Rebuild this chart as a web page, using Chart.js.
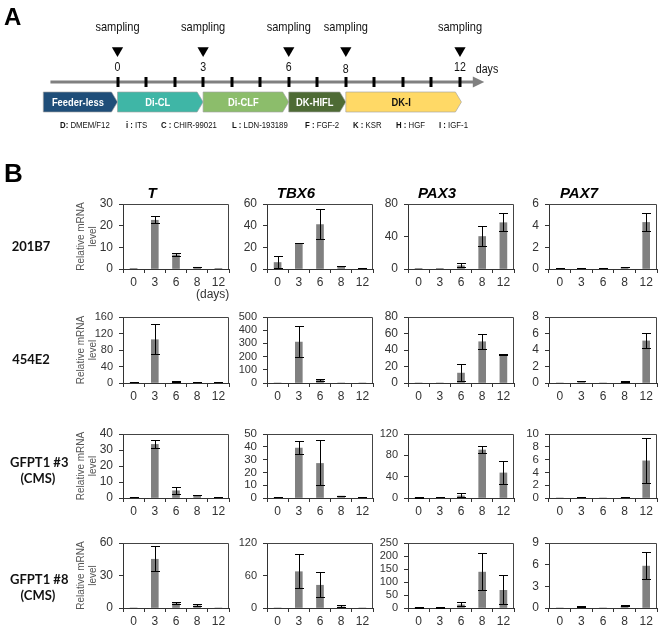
<!DOCTYPE html>
<html>
<head>
<meta charset="utf-8">
<script src="https://cdn.jsdelivr.net/npm/chart.js@4.4.0/dist/chart.umd.min.js"></script>
<style>
  body { margin: 0; background: #fff; }
  #page { position: relative; width: 660px; height: 629px; overflow: hidden;
          font-family: Arial, 'Liberation Sans', sans-serif; }
  #page canvas { position: absolute; }
  .lbl { position: absolute; white-space: nowrap; }
  .panel { font-weight: bold; line-height: 1; }
  .rowname { font-family: Lato, 'Liberation Sans', sans-serif; font-weight: bold; font-size: 13px;
             line-height: 16px; text-align: center; width: 56px; color: #111; }
  .medium { font-size: 9.5px; line-height: 12px; transform: scaleX(0.82); transform-origin: left center; color: #111; }
</style>
</head>
<body>
<div id="page"></div>
<script>
// ---------- panel A: protocol timeline ----------
const samplingDays = [0, 3, 6, 8, 12];
const phaseNames = ['Feeder-less', 'Di-CL', 'Di-CLF', 'DK-HIFL', 'DK-I'];
const phaseStart = [-2.6, 0, 3, 6, 8];
const phaseEnd = [0, 3, 6, 8, 12.05];
const mediumKeys = ['D:', 'i :', 'C :', 'L :', 'F :', 'K :', 'H :', 'I :'];
const mediumNames = ['DMEM/F12', 'ITS', 'CHIR-99021', 'LDN-193189', 'FGF-2', 'KSR', 'HGF', 'IGF-1'];

// ---------- panel B: relative mRNA level (mean, error) on days 0/3/6/8/12 ----------
const days = ['0', '3', '6', '8', '12'];
const genes = ['T', 'TBX6', 'PAX3', 'PAX7'];
const cellLines = ['201B7', '454E2', 'GFPT1 #3<br>(CMS)', 'GFPT1 #8<br>(CMS)'];

const T_201B7 = [0.05, 22.5, 6.5, 0.8, 0.1];
const T_201B7_err = [0, 1.8, 0.9, 0.2, 0];
const TBX6_201B7 = [6, 23.5, 41, 2, 0.5];
const TBX6_201B7_err = [6, 0.4, 14, 0.4, 0.2];
const PAX3_201B7 = [0.2, 0.2, 4, 40, 57];
const PAX3_201B7_err = [0, 0, 3, 13, 12];
const PAX7_201B7 = [0.05, 0.05, 0.05, 0.15, 4.3];
const PAX7_201B7_err = [0.02, 0.02, 0.02, 0.04, 0.9];

const T_454E2 = [1, 105, 2, 1, 1];
const T_454E2_err = [0.3, 38, 0.5, 0.3, 0.3];
const TBX6_454E2 = [0, 310, 20, 0, 0];
const TBX6_454E2_err = [0, 123, 10, 0, 0];
const PAX3_454E2 = [0, 0, 12, 50, 34];
const PAX3_454E2_err = [0, 0, 11, 10, 1];
const PAX7_454E2 = [0, 0.2, 0, 0.1, 5.1];
const PAX7_454E2_err = [0, 0.05, 0, 0.03, 1];

const T_GFPT1_3 = [0.3, 33.5, 4.5, 1.5, 0.3];
const T_GFPT1_3_err = [0.1, 2.8, 2.5, 0.5, 0.1];
const TBX6_GFPT1_3 = [0.5, 39, 27, 1.5, 0.5];
const TBX6_GFPT1_3_err = [0.2, 5.5, 18, 0.4, 0.2];
const PAX3_GFPT1_3 = [0.5, 1, 4, 90, 47];
const PAX3_GFPT1_3_err = [0.3, 0.5, 5, 7, 22];
const PAX7_GFPT1_3 = [0, 0.1, 0, 0.1, 5.8];
const PAX7_GFPT1_3_err = [0, 0.03, 0, 0.03, 3.6];

const T_GFPT1_8 = [0, 45, 4, 2, 0];
const T_GFPT1_8_err = [0, 12, 1.2, 1.5, 0];
const TBX6_GFPT1_8 = [0, 67, 42, 2, 0];
const TBX6_GFPT1_8_err = [0, 32, 24, 3, 0];
const PAX3_GFPT1_8 = [1, 1, 12, 138, 68];
const PAX3_GFPT1_8_err = [0.5, 0.5, 10, 73, 58];
const PAX7_GFPT1_8 = [0, 0.1, 0, 0.25, 5.8];
const PAX7_GFPT1_8_err = [0, 0.03, 0, 0.15, 1.9];

const yMax = [[30, 60, 80, 6], [160, 500, 80, 8], [40, 50, 120, 10], [60, 120, 250, 9]];
const yStep = [[10, 20, 40, 2], [40, 100, 20, 2], [10, 10, 40, 2], [30, 60, 50, 3]];

const means = [
  [T_201B7, TBX6_201B7, PAX3_201B7, PAX7_201B7],
  [T_454E2, TBX6_454E2, PAX3_454E2, PAX7_454E2],
  [T_GFPT1_3, TBX6_GFPT1_3, PAX3_GFPT1_3, PAX7_GFPT1_3],
  [T_GFPT1_8, TBX6_GFPT1_8, PAX3_GFPT1_8, PAX7_GFPT1_8]
];
const errs = [
  [T_201B7_err, TBX6_201B7_err, PAX3_201B7_err, PAX7_201B7_err],
  [T_454E2_err, TBX6_454E2_err, PAX3_454E2_err, PAX7_454E2_err],
  [T_GFPT1_3_err, TBX6_GFPT1_3_err, PAX3_GFPT1_3_err, PAX7_GFPT1_3_err],
  [T_GFPT1_8_err, TBX6_GFPT1_8_err, PAX3_GFPT1_8_err, PAX7_GFPT1_8_err]
];

// layout of the small plots (plot area boxes)
const colLeft = [123, 267, 408, 549];
const colWidth = [106, 106, 106, 108];
const rowTop = [204, 317, 434, 543];
const rowHeight = [65, 66, 64, 65];
const rowLabelX = [3, 3, 10, 10];
const rowLabelY = [238, 351, 462, 579];
const phaseColors = ['#1f4e79', '#3fb6a6', '#8cbd6b', '#4e6b35', '#ffd966'];
const phaseText = ['#fff', '#fff', '#fff', '#fff', '#111'];
const mediumX = [60, 126, 161, 232, 305, 353, 396, 439];

Chart.defaults.font.family = "Arial, 'Liberation Sans', sans-serif";
const page = document.getElementById('page');

function addLabel(html, cls, left, top, extra) {
  const d = document.createElement('div');
  d.className = 'lbl ' + cls;
  d.innerHTML = html;
  d.style.left = left + 'px';
  d.style.top = top + 'px';
  if (extra) Object.assign(d.style, extra);
  page.appendChild(d);
}

function squeezedText(ctx, txt, x, y, size, weight, color, sx) {
  ctx.save();
  ctx.font = weight + ' ' + size + "px 'Liberation Sans', Arial, sans-serif";
  ctx.fillStyle = color;
  ctx.textAlign = 'center';
  ctx.textBaseline = 'middle';
  ctx.translate(x, y);
  ctx.scale(sx, 1);
  ctx.fillText(txt, 0, 0);
  ctx.restore();
}

// draws the day axis, the phase arrows and the labels of panel A
const timeline = {
  id: 'timeline',
  beforeDatasetsDraw(chart) {
    const ctx = chart.ctx;
    const xs = chart.scales.x;
    const px = v => xs.getPixelForValue(v);
    ctx.save();
    // main arrow
    ctx.strokeStyle = '#808080';
    ctx.lineWidth = 3;
    ctx.beginPath();
    ctx.moveTo(px(-2.35), 82);
    ctx.lineTo(px(12.5), 82);
    ctx.stroke();
    ctx.fillStyle = '#808080';
    ctx.beginPath();
    ctx.moveTo(px(12.45), 76.5);
    ctx.lineTo(px(12.85), 82);
    ctx.lineTo(px(12.45), 87.5);
    ctx.closePath();
    ctx.fill();
    // daily ticks
    ctx.fillStyle = '#000';
    for (let d = 0; d <= 12; d++) ctx.fillRect(Math.round(px(d)) - 1.5, 77, 3, 10);
    // phase arrows
    phaseNames.forEach((name, i) => {
      const x0 = px(phaseStart[i]), x1 = px(phaseEnd[i]);
      ctx.beginPath();
      ctx.moveTo(x0, 92);
      ctx.lineTo(x1 - 6, 92);
      ctx.lineTo(x1, 102);
      ctx.lineTo(x1 - 6, 112);
      ctx.lineTo(x0, 112);
      ctx.closePath();
      ctx.fillStyle = phaseColors[i];
      ctx.fill();
      ctx.strokeStyle = 'rgba(160,160,160,0.8)';
      ctx.lineWidth = 0.8;
      ctx.stroke();
      squeezedText(ctx, name, (x0 + x1 - 5) / 2, 102.5, 11, 'bold', phaseText[i], 0.85);
    });
    // sampling labels and day numbers
    samplingDays.forEach(d => {
      squeezedText(ctx, 'sampling', px(d), 27, 13, 'normal', '#111', 0.85);
      squeezedText(ctx, String(d), px(d), d === 8 ? 70 : 68, 12.5, 'normal', '#111', 0.85);
    });
    squeezedText(ctx, 'days', px(12) + 27, 70, 12.5, 'normal', '#111', 0.85);
    ctx.restore();
  }
};

const cvA = document.createElement('canvas');
cvA.width = 660; cvA.height = 140;
cvA.style.left = '0px'; cvA.style.top = '0px';
page.appendChild(cvA);
new Chart(cvA, {
  type: 'scatter',
  data: {
    datasets: [{
      data: samplingDays.map(d => ({ x: d, y: 50.5 })),
      pointStyle: 'triangle',
      pointRotation: 180,
      pointRadius: 6.5,
      pointBackgroundColor: '#000',
      pointBorderWidth: 0
    }]
  },
  options: {
    responsive: false, animation: false, devicePixelRatio: 1,
    layout: { autoPadding: false, padding: 0 },
    plugins: { legend: { display: false }, tooltip: { enabled: false } },
    scales: {
      x: { type: 'linear', display: false, min: -4.117, max: 19.008 },
      y: { display: false, min: 0, max: 140, reverse: true }
    }
  },
  plugins: [timeline]
});

mediumKeys.forEach((k, i) => {
  addLabel('<b>' + k + '</b> ' + mediumNames[i], 'medium', mediumX[i], 119);
});
addLabel('A', 'panel', 4, 5, { fontSize: '24px' });
addLabel('B', 'panel', 4, 160, { fontSize: '26px' });

// ---------- panel B ----------
const errBars = {
  id: 'errBars',
  afterDatasetsDraw(chart) {
    const ctx = chart.ctx;
    const ds = chart.data.datasets[0];
    const ys = chart.scales.y;
    ctx.save();
    ctx.strokeStyle = '#000';
    ctx.lineWidth = 1;
    chart.getDatasetMeta(0).data.forEach((bar, i) => {
      const e = ds.errors[i];
      if (!e) return;
      const v = ds.data[i];
      const yt = Math.round(ys.getPixelForValue(v + e)) + 0.5;
      const yb = Math.round(ys.getPixelForValue(Math.max(0, v - e))) - 0.5;
      const x = Math.round(bar.x) + 0.5;
      ctx.beginPath();
      ctx.moveTo(x, yt); ctx.lineTo(x, yb);
      ctx.moveTo(x - 4.5, yt); ctx.lineTo(x + 4.5, yt);
      ctx.moveTo(x - 4.5, yb); ctx.lineTo(x + 4.5, yb);
      ctx.stroke();
    });
    ctx.restore();
  }
};

const boxFrame = {
  id: 'boxFrame',
  beforeDatasetsDraw(chart) {
    const { ctx, chartArea: a } = chart;
    ctx.save();
    ctx.strokeStyle = '#444';
    ctx.lineWidth = 1;
    ctx.beginPath();
    ctx.moveTo(a.left, Math.round(a.top) + 0.5);
    ctx.lineTo(Math.round(a.right) - 0.5, Math.round(a.top) + 0.5);
    ctx.lineTo(Math.round(a.right) - 0.5, a.bottom);
    ctx.stroke();
    ctx.restore();
  }
};

function smallChart(r, c) {
  const padTop = 24, yW = 48, xH = 22;
  const cv = document.createElement('canvas');
  cv.width = yW + colWidth[c] + 2;
  cv.height = padTop + rowHeight[r] + xH;
  cv.style.left = (colLeft[c] - yW) + 'px';
  cv.style.top = (rowTop[r] - padTop) + 'px';
  page.appendChild(cv);
  const big = yMax[r][c] >= 100;
  const dense = yMax[r][c] / yStep[r][c] > 4;
  new Chart(cv, {
    type: 'bar',
    data: {
      labels: days,
      datasets: [{
        data: means[r][c],
        errors: errs[r][c],
        backgroundColor: '#808080',
        barThickness: 7
      }]
    },
    options: {
      responsive: false, animation: false, devicePixelRatio: 1,
      layout: { autoPadding: false, padding: { top: r === 0 ? 0 : padTop, right: 2, left: 0, bottom: 0 } },
      plugins: {
        legend: { display: false },
        tooltip: { enabled: false },
        title: {
          display: r === 0,
          text: genes[c],
          color: '#000',
          font: { size: 15, weight: 'bold', style: 'italic' },
          padding: { top: 5, bottom: 1 }
        }
      },
      scales: {
        x: {
          grid: { display: true, drawOnChartArea: false, tickLength: 4, color: '#333', offset: true },
          border: { color: '#333' },
          ticks: { color: '#333', font: { size: 12 }, padding: 2, maxRotation: 0, autoSkip: false },
          afterFit: s => { s.height = xH; }
        },
        y: {
          min: 0, max: yMax[r][c],
          grid: { display: true, drawOnChartArea: false, tickLength: 4, color: '#333' },
          border: { color: '#333' },
          ticks: { stepSize: yStep[r][c], autoSkip: false, color: '#333',
                   font: { size: big ? 11 : (dense ? 11.5 : 12), lineHeight: 1 }, padding: 6 },
          title: {
            display: c === 0,
            text: ['Relative mRNA', 'level'],
            color: '#555',
            font: { size: 10 },
            padding: 0
          },
          afterFit: s => { s.width = yW; }
        }
      }
    },
    plugins: [boxFrame, errBars]
  });
}

for (let r = 0; r < 4; r++) {
  for (let c = 0; c < 4; c++) smallChart(r, c);
  addLabel(cellLines[r], 'rowname', rowLabelX[r], rowLabelY[r] - (r >= 2 ? 8 : 0));
}
addLabel('(days)', '', 196, 287, { fontSize: '12px', color: '#333' });
</script>
</body>
</html>
